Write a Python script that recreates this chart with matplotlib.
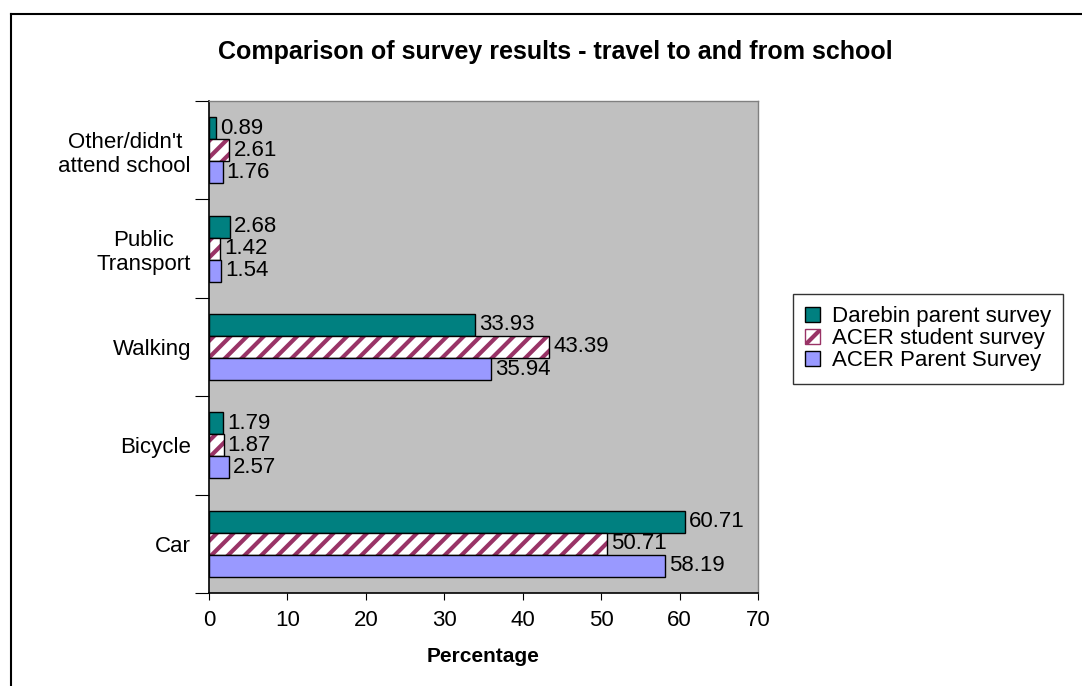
import numpy as np
import matplotlib.pyplot as plt
from matplotlib.lines import Line2D
from matplotlib.patches import Patch

plt.rcParams['font.family'] = ['Liberation Sans', 'DejaVu Sans']
plt.rcParams['hatch.linewidth'] = 3.0

categories = ['Car', 'Bicycle', 'Walking', 'Public\nTransport', "Other/didn't\nattend school"]
darebin_parent = [60.71, 1.79, 33.93, 2.68, 0.89]
acer_student = [50.71, 1.87, 43.39, 1.42, 2.61]
acer_parent = [58.19, 2.57, 35.94, 1.54, 1.76]
xticks = [0, 10, 20, 30, 40, 50, 60, 70]

W, H = 1082, 686
fig = plt.figure(figsize=(W / 100, H / 100), dpi=100)
fig.patch.set_facecolor('white')

ax = fig.add_axes([209 / W, 1 - 593 / H, (758 - 209) / W, (593 - 101) / H])
ax.set_facecolor('#C0C0C0')

y = np.arange(len(categories))
h = 0.224
fs = 16

b1 = ax.barh(y + h, darebin_parent, h, color='#008080', edgecolor='black', linewidth=1)
b2 = ax.barh(y, acer_student, h, color='white', edgecolor='#993366', hatch='//', linewidth=0)
ax.barh(y, acer_student, h, fill=False, edgecolor='black', linewidth=1)
b3 = ax.barh(y - h, acer_parent, h, color='#9999FF', edgecolor='black', linewidth=1)

for bars, vals in [(b1, darebin_parent), (b2, acer_student), (b3, acer_parent)]:
    for bar, v in zip(bars, vals):
        ax.text(v + 0.5, bar.get_y() + bar.get_height() / 2, '%.2f' % v,
                va='center', ha='left', fontsize=fs)

ax.set_xlim(0, 70)
ax.set_ylim(-0.5, len(categories) - 0.5)
ax.set_xticks(xticks)
ax.tick_params(axis='x', labelsize=fs, length=5, direction='out', pad=7)

ax.set_yticks(np.arange(len(categories) + 1) - 0.5)
ax.set_yticklabels([])
ax.set_yticks(y, minor=True)
ax.set_yticklabels(categories, minor=True, fontsize=fs, multialignment='center')
ax.tick_params(axis='y', which='major', length=10, direction='out')
ax.tick_params(axis='y', which='minor', length=0, pad=13)

for s in ['top', 'right']:
    ax.spines[s].set_color('#808080')
    ax.spines[s].set_linewidth(1)
for s in ['left', 'bottom']:
    ax.spines[s].set_color('black')
    ax.spines[s].set_linewidth(1.2)

ax.set_xlabel('Percentage', fontsize=fs - 1, fontweight='bold', labelpad=12)
fig.text(555 / W, 1 - 52 / H, 'Comparison of survey results - travel to and from school',
         ha='center', va='center', fontsize=18, fontweight='bold')

handles = [Patch(facecolor='#008080', edgecolor='black'),
           Patch(facecolor='white', edgecolor='#993366', hatch='//'),
           Patch(facecolor='#9999FF', edgecolor='black')]
leg = fig.legend(handles, ['Darebin parent survey', 'ACER student survey', 'ACER Parent Survey'],
                 loc='upper left', bbox_to_anchor=(793 / W, 1 - 294 / H),
                 fontsize=fs, handlelength=0.65, handleheight=0.65, handletextpad=0.55,
                 labelspacing=0.05, borderpad=0.55, borderaxespad=0, fancybox=False, frameon=True)
leg.get_frame().set_edgecolor('black')
leg.get_frame().set_linewidth(1)

fig.add_artist(Line2D([11 / W, 11 / W], [0, 1 - 14 / H], color='black', linewidth=1.5))
fig.add_artist(Line2D([11 / W, 1], [1 - 14 / H, 1 - 14 / H], color='black', linewidth=1.5))

fig.savefig('out.png', dpi=100)
